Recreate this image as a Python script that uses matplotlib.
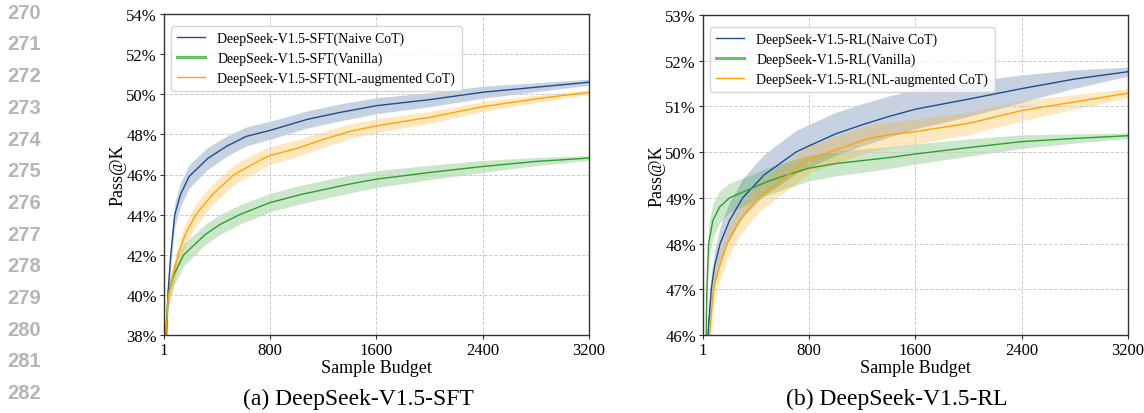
import numpy as np
import matplotlib.pyplot as plt
from matplotlib.ticker import FuncFormatter

plt.rcParams['font.family'] = ['Liberation Serif', 'DejaVu Serif']

# ---------------- SFT panel data ----------------
sft_naive_k = [1, 20, 30, 52, 82, 125, 190, 330, 470, 620, 800, 1080, 1330, 1600, 2000, 2400, 2800, 3200]
sft_naive = [34.0, 38.0, 40.0, 42.0, 44.0, 45.0, 45.9, 46.8, 47.4, 47.9, 48.2, 48.75, 49.1, 49.43, 49.73, 50.1, 50.35, 50.6]
sft_naive_err = [0.5, 0.55, 0.6, 0.6, 0.6, 0.6, 0.58, 0.55, 0.5, 0.47, 0.45, 0.43, 0.42, 0.4, 0.35, 0.3, 0.22, 0.15]

sft_vanilla_k = [1, 12, 32, 75, 150, 310, 420, 570, 800, 1030, 1380, 1600, 2000, 2400, 2800, 3200]
sft_vanilla = [35.0, 38.0, 40.0, 41.0, 42.0, 43.0, 43.5, 44.0, 44.6, 45.0, 45.5, 45.77, 46.1, 46.4, 46.65, 46.82]
sft_vanilla_err = [0.4, 0.5, 0.55, 0.55, 0.55, 0.5, 0.5, 0.48, 0.46, 0.46, 0.45, 0.42, 0.36, 0.3, 0.2, 0.12]

sft_nl_k = [1, 15, 35, 70, 107, 160, 240, 365, 530, 720, 800, 1000, 1200, 1400, 1600, 2000, 2400, 2800, 3200]
sft_nl = [34.0, 38.0, 40.0, 41.0, 42.0, 43.0, 44.0, 45.0, 46.0, 46.7, 46.95, 47.3, 47.75, 48.15, 48.43, 48.85, 49.38, 49.77, 50.1]
sft_nl_err = [0.45, 0.5, 0.55, 0.55, 0.55, 0.55, 0.55, 0.52, 0.5, 0.46, 0.45, 0.42, 0.4, 0.37, 0.35, 0.3, 0.25, 0.18, 0.12]

# ---------------- RL panel data ----------------
rl_naive_k = [1, 38, 63, 88, 130, 200, 300, 460, 700, 800, 1000, 1200, 1400, 1600, 2000, 2400, 2800, 3200]
rl_naive = [44.5, 46.0, 47.0, 47.5, 48.0, 48.5, 49.0, 49.5, 50.0, 50.14, 50.4, 50.6, 50.78, 50.94, 51.16, 51.39, 51.6, 51.76]
rl_naive_err = [0.3, 0.35, 0.35, 0.35, 0.38, 0.4, 0.42, 0.45, 0.47, 0.47, 0.47, 0.46, 0.45, 0.43, 0.38, 0.3, 0.2, 0.1]

rl_vanilla_k = [1, 25, 30, 43, 75, 126, 200, 360, 480, 630, 800, 1000, 1400, 1600, 2000, 2400, 2800, 3200]
rl_vanilla = [44.0, 46.0, 47.0, 48.0, 48.5, 48.8, 49.0, 49.2, 49.35, 49.5, 49.65, 49.75, 49.88, 49.96, 50.1, 50.23, 50.3, 50.36]
rl_vanilla_err = [0.3, 0.35, 0.38, 0.4, 0.38, 0.35, 0.32, 0.3, 0.3, 0.29, 0.28, 0.27, 0.24, 0.22, 0.19, 0.15, 0.1, 0.06]

rl_nl_k = [1, 50, 80, 126, 183, 276, 415, 553, 640, 800, 1000, 1250, 1400, 1600, 2000, 2400, 2800, 3200]
rl_nl = [44.5, 46.0, 47.0, 47.5, 48.0, 48.5, 49.0, 49.3, 49.5, 49.85, 50.05, 50.3, 50.38, 50.45, 50.63, 50.91, 51.1, 51.29]
rl_nl_err = [0.3, 0.3, 0.32, 0.33, 0.33, 0.33, 0.33, 0.32, 0.32, 0.3, 0.3, 0.3, 0.28, 0.27, 0.25, 0.22, 0.16, 0.1]

c_blue = '#1f4e8d'
c_green = '#2ca02c'
c_orange = '#ffa500'

fig = plt.figure(figsize=(11.44, 4.14), dpi=100)
ax1 = fig.add_axes([164 / 1144, 1 - 336 / 414, 425 / 1144, 321 / 414])
ax2 = fig.add_axes([703 / 1144, 1 - 336 / 414, 425 / 1144, 320 / 414])

panels = [
    (ax1, 'SFT', [(sft_naive_k, sft_naive, sft_naive_err, c_blue, 'Naive CoT'),
                  (sft_vanilla_k, sft_vanilla, sft_vanilla_err, c_green, 'Vanilla'),
                  (sft_nl_k, sft_nl, sft_nl_err, c_orange, 'NL-augmented CoT')],
     (38, 54), np.arange(38, 55, 2)),
    (ax2, 'RL', [(rl_naive_k, rl_naive, rl_naive_err, c_blue, 'Naive CoT'),
                 (rl_vanilla_k, rl_vanilla, rl_vanilla_err, c_green, 'Vanilla'),
                 (rl_nl_k, rl_nl, rl_nl_err, c_orange, 'NL-augmented CoT')],
     (46, 53), np.arange(46, 54, 1)),
]

for ax, tag, series, ylim, yticks in panels:
    for k, v, e, col, name in series:
        k = np.array(k)
        v = np.array(v)
        e = np.array(e)
        ax.fill_between(k, v - e, v + e, color=col, alpha=0.25, linewidth=0)
        ax.plot(k, v, color=col, linewidth=1.0, label=f'DeepSeek-V1.5-{tag}({name})')
    ax.set_xlim(1, 3200)
    ax.set_ylim(*ylim)
    ax.set_xticks([1, 800, 1600, 2400, 3200])
    ax.set_yticks(yticks)
    ax.yaxis.set_major_formatter(FuncFormatter(lambda y, p: f'{y:.0f}%'))
    ax.tick_params(labelsize=12, length=3, width=0.8, color='#333333', pad=2)
    ax.grid(True, linestyle='--', color='#cccccc', linewidth=0.7)
    for s in ax.spines.values():
        s.set_color('#333333')
        s.set_linewidth(1.0)
    ax.set_xlabel('Sample Budget', fontsize=13, labelpad=1)
    ax.set_ylabel('Pass@K', fontsize=13, labelpad=0)
    leg = ax.legend(loc='upper left', bbox_to_anchor=(0.0, 0.985), fontsize=10, frameon=True,
                    fancybox=True, edgecolor='#cccccc', handlelength=2.0, borderpad=0.45,
                    labelspacing=0.45, handletextpad=0.9)
    leg.get_lines()[1].set_linewidth(2.2)
    leg.get_lines()[1].set_color('#66c266')

fig.text(358 / 1144, 1 - 399 / 414, '(a) DeepSeek-V1.5-SFT', fontsize=17, ha='center', va='center')
fig.text(897 / 1144, 1 - 399 / 414, '(b) DeepSeek-V1.5-RL', fontsize=17, ha='center', va='center')

# page line numbers
for i in range(13):
    fig.text(24 / 1144, 1 - (13.3 + i * 31.7) / 414, str(270 + i), fontsize=14.5,
             family='Liberation Sans', weight='bold', color='#b5b5b5', ha='center', va='center')

plt.savefig('out.png', dpi=100)
plt.close()
